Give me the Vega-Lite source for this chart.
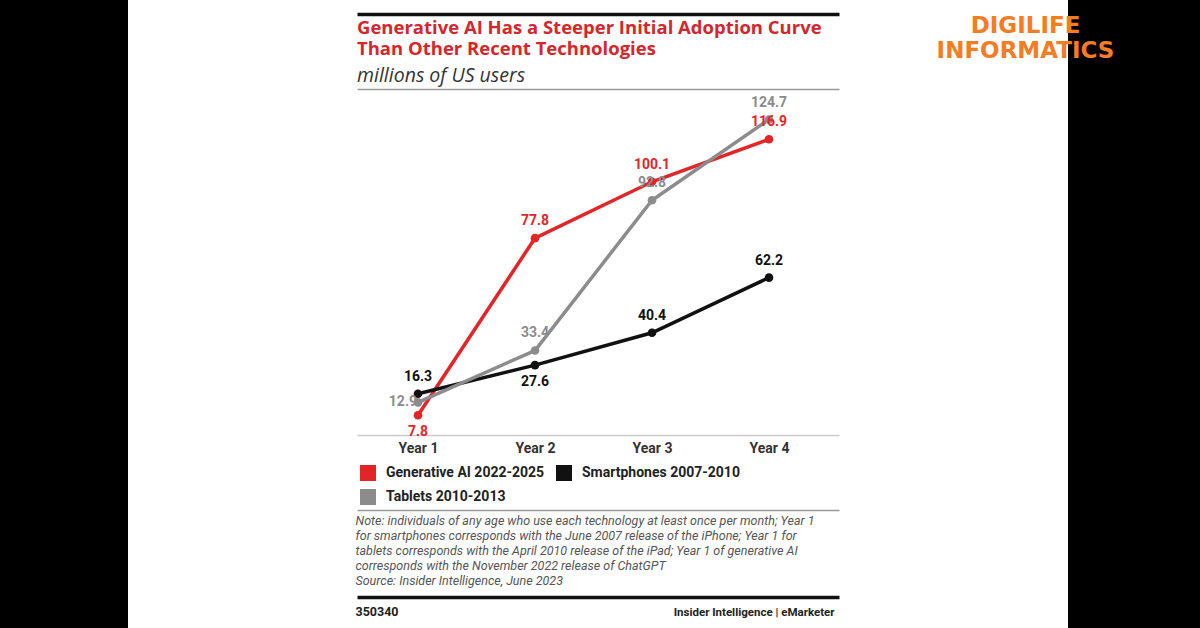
{
  "$schema": "https://vega.github.io/schema/vega-lite/v6.json",
  "width": 482,
  "height": 585,
  "autosize": {"type": "none"},
  "padding": {"left": 357, "top": 13, "right": 361, "bottom": 30},
  "background": "#000000",
  "config": {
    "font": "Roboto",
    "view": {"fill": "#ffffff", "stroke": "#ffffff", "strokeWidth": 458}
  },
  "title": {
    "text": ["Generative AI Has a Steeper Initial Adoption Curve", "Than Other Recent Technologies"],
    "subtitle": "millions of US users",
    "orient": "top",
    "anchor": "start",
    "frame": "group",
    "offset": 0,
    "font": "Open Sans",
    "fontSize": 18.5,
    "fontWeight": "bold",
    "color": "#d6262c",
    "lineHeight": 20.5,
    "subtitleFont": "Open Sans",
    "subtitleFontSize": 19.5,
    "subtitleFontStyle": "italic",
    "subtitleColor": "#333333",
    "subtitlePadding": 8.5,
    "dy": 72
  },
  "data": {
    "values": [
      {"period": "Year 1", "series": "Generative AI 2022-2025", "value": 7.8},
      {"period": "Year 2", "series": "Generative AI 2022-2025", "value": 77.8},
      {"period": "Year 3", "series": "Generative AI 2022-2025", "value": 100.1},
      {"period": "Year 4", "series": "Generative AI 2022-2025", "value": 116.9},
      {"period": "Year 1", "series": "Smartphones 2007-2010", "value": 16.3},
      {"period": "Year 2", "series": "Smartphones 2007-2010", "value": 27.6},
      {"period": "Year 3", "series": "Smartphones 2007-2010", "value": 40.4},
      {"period": "Year 4", "series": "Smartphones 2007-2010", "value": 62.2},
      {"period": "Year 1", "series": "Tablets 2010-2013", "value": 12.9},
      {"period": "Year 2", "series": "Tablets 2010-2013", "value": 33.4},
      {"period": "Year 3", "series": "Tablets 2010-2013", "value": 92.8},
      {"period": "Year 4", "series": "Tablets 2010-2013", "value": 124.7}
    ]
  },
  "layer": [
    {
      "encoding": {
        "x": {
          "field": "period",
          "type": "ordinal",
          "scale": {"type": "point", "padding": 0.5598, "align": 0.4656},
          "axis": {
            "orient": "bottom",
            "offset": -163,
            "domain": false,
            "ticks": false,
            "tickSize": 0,
            "grid": false,
            "labelAngle": 0,
            "labelFontSize": 14,
            "labelFontWeight": "bold",
            "labelColor": "#333333",
            "labelPadding": 6,
            "title": [
              "Note: individuals of any age who use each technology at least once per month; Year 1",
              "for smartphones corresponds with the June 2007 release of the iPhone; Year 1 for",
              "tablets corresponds with the April 2010 release of the iPad; Year 1 of generative AI",
              "corresponds with the November 2022 release of ChatGPT",
              "Source: Insider Intelligence, June 2023"
            ],
            "titleX": -2,
            "titleY": 79,
            "titleAlign": "left",
            "titleAnchor": "start",
            "titleBaseline": "top",
            "titleFontSize": 12.5,
            "titleFontStyle": "italic",
            "titleFontWeight": "normal",
            "titleColor": "#555555",
            "titleLineHeight": 15
          }
        },
        "y": {
          "field": "value",
          "type": "quantitative",
          "scale": {"domain": [-64.43, 166.8], "nice": false, "zero": false},
          "axis": {
            "orient": "left",
            "values": [166.5, 136.76, 0, -29.64, -64.1],
            "labels": false,
            "ticks": false,
            "domain": false,
            "grid": true,
            "gridColor": {
              "condition": [
                {"test": "datum.value > 150 || datum.value < -60", "value": "#111111"},
                {"test": "datum.value == 0", "value": "#cccccc"}
              ],
              "value": "#999999"
            },
            "gridWidth": {
              "condition": {"test": "datum.value > 150 || datum.value < -60", "value": 3.5},
              "value": 1.5
            },
            "gridOpacity": 1,
            "title": "350340",
            "titleAngle": 0,
            "titleX": -2,
            "titleY": 602,
            "titleAlign": "left",
            "titleBaseline": "alphabetic",
            "titleFontSize": 12.5,
            "titleFontWeight": "bold",
            "titleColor": "#222222"
          }
        },
        "color": {
          "field": "series",
          "type": "nominal",
          "scale": {
            "domain": ["Generative AI 2022-2025", "Smartphones 2007-2010", "Tablets 2010-2013"],
            "range": ["#e42528", "#111111", "#8c8c8c"]
          },
          "legend": {
            "orient": "none",
            "direction": "horizontal",
            "legendX": 3,
            "legendY": 452,
            "title": null,
            "columns": 2,
            "columnPadding": 11,
            "rowPadding": 8,
            "padding": 0,
            "symbolType": "square",
            "symbolSize": 256,
            "symbolStrokeWidth": 0,
            "symbolOpacity": 1,
            "labelFontSize": 14,
            "labelFontWeight": "bold",
            "labelColor": "#222222",
            "labelOffset": 10,
            "labelLimit": 300
          }
        }
      },
      "layer": [
        {"mark": {"type": "line", "strokeWidth": 3.5}},
        {"mark": {"type": "point", "filled": true, "size": 75, "opacity": 1}},
        {
          "transform": [
            {"filter": "!((datum.series == 'Generative AI 2022-2025' && datum.period == 'Year 1') || (datum.series == 'Smartphones 2007-2010' && datum.period == 'Year 2') || (datum.series == 'Tablets 2010-2013' && datum.period == 'Year 1'))"}
          ],
          "mark": {"type": "text", "dy": -17, "fontSize": 14, "fontWeight": "bold", "baseline": "middle"},
          "encoding": {"text": {"field": "value", "type": "quantitative", "format": ".1f"}}
        },
        {
          "transform": [
            {"filter": "(datum.series == 'Generative AI 2022-2025' && datum.period == 'Year 1') || (datum.series == 'Smartphones 2007-2010' && datum.period == 'Year 2')"}
          ],
          "mark": {"type": "text", "dy": 17, "fontSize": 14, "fontWeight": "bold", "baseline": "middle"},
          "encoding": {"text": {"field": "value", "type": "quantitative", "format": ".1f"}}
        },
        {
          "transform": [
            {"filter": "datum.series == 'Tablets 2010-2013' && datum.period == 'Year 1'"}
          ],
          "mark": {"type": "text", "dx": -1, "align": "right", "fontSize": 14, "fontWeight": "bold", "baseline": "middle"},
          "encoding": {"text": {"field": "value", "type": "quantitative", "format": ".1f"}}
        }
      ]
    },
    {
      "mark": {"type": "point", "opacity": 0},
      "encoding": {
        "x": {
          "field": "period",
          "type": "ordinal",
          "scale": {"type": "point", "padding": 0.5598, "align": 0.4656},
          "axis": {
            "orient": "top",
            "domain": false,
            "ticks": false,
            "labels": false,
            "grid": false,
            "title": ["DIGILIFE", "INFORMATICS"],
            "titleX": 668,
            "titleY": 1,
            "titleAlign": "center",
            "titleBaseline": "top",
            "titleFont": "DejaVu Sans",
            "titleFontSize": 23,
            "titleFontWeight": "bold",
            "titleColor": "#f47c22",
            "titleLineHeight": 25
          }
        },
        "y": {
          "field": "value",
          "type": "quantitative",
          "scale": {"domain": [-64.43, 166.8], "nice": false, "zero": false},
          "axis": {
            "orient": "right",
            "domain": false,
            "ticks": false,
            "labels": false,
            "grid": false,
            "title": "Insider Intelligence | eMarketer",
            "titleAngle": 0,
            "titleX": -5,
            "titleY": 602,
            "titleAlign": "right",
            "titleBaseline": "alphabetic",
            "titleFontSize": 11.5,
            "titleFontWeight": "bold",
            "titleColor": "#222222"
          }
        }
      }
    }
  ],
  "resolve": {
    "scale": {"x": "independent", "y": "independent"},
    "axis": {"x": "independent", "y": "independent"}
  }
}
